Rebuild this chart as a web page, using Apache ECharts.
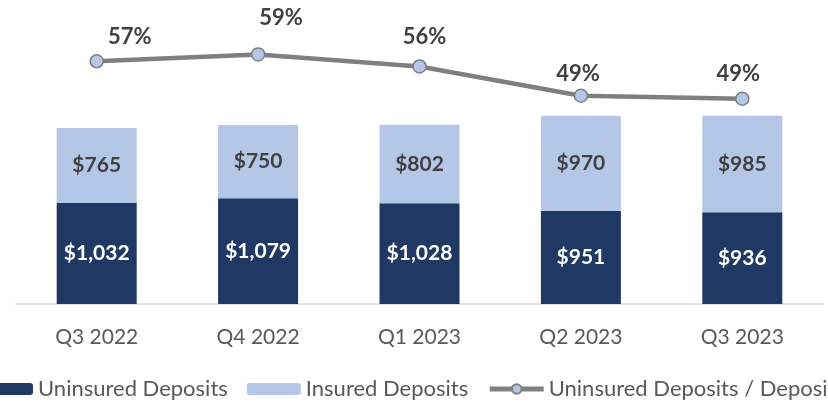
<!DOCTYPE html>
<html>
<head>
<meta charset="utf-8">
<script src="https://cdn.jsdelivr.net/npm/echarts@6/dist/echarts.min.js"></script>
<style>
  html, body { margin: 0; padding: 0; background: #fff; }
  #chart { width: 828px; height: 402px; }
</style>
</head>
<body>
<div id="chart"></div>
<script>
const quarters = ["Q3 2022", "Q4 2022", "Q1 2023", "Q2 2023", "Q3 2023"];
const uninsured = [1032, 1079, 1028, 951, 936];
const insured = [765, 750, 802, 970, 985];
const uninsuredShare = [57.4, 59.0, 56.2, 49.4, 48.7]; // percent

const FONT = "Lato";
const DARK = "#1F3864";
const LIGHT = "#B4C7E7";
const GRAY = "#7F7F7F";

// nudges for the % labels, relative to each point
const shareLabelOffsets = [[33, -24], [23, -37], [5, -30], [-3, -22], [-4, -25]];

const chart = echarts.init(document.getElementById("chart"));

const money = (v) => "$" + v.toLocaleString("en-US");

chart.setOption({
  animation: false,
  textStyle: { fontFamily: FONT },
  grid: { left: 16, right: 5, top: 20, bottom: 98 },
  legend: {
    left: -26,
    top: 373,
    width: 1300,
    itemWidth: 54,
    itemHeight: 12,
    itemGap: 19,
    textStyle: { fontFamily: FONT, fontSize: 22, color: "#595959" },
    data: [
      "Uninsured Deposits",
      "Insured Deposits",
      { name: "Uninsured Deposits / Deposits", lineStyle: { width: 5 } },
    ],
  },
  xAxis: {
    type: "category",
    data: quarters,
    axisTick: { show: false },
    axisLine: { lineStyle: { color: "#D9D9D9", width: 1.5 } },
    axisLabel: { color: "#595959", fontSize: 21, fontFamily: FONT, margin: 23 },
  },
  yAxis: [
    { type: "value", min: 0, max: 2900, show: false, splitLine: { show: false } },
    { type: "value", min: 1, max: 67, show: false, splitLine: { show: false } },
  ],
  series: [
    {
      name: "Uninsured Deposits",
      type: "bar",
      stack: "dep",
      barWidth: 80,
      data: uninsured,
      itemStyle: { color: DARK },
      label: {
        show: true,
        position: "inside",
        color: "#fff",
        fontWeight: "bold",
        fontSize: 21,
        fontFamily: FONT,
        formatter: (p) => money(p.value),
      },
    },
    {
      name: "Insured Deposits",
      type: "bar",
      stack: "dep",
      barWidth: 80,
      data: insured,
      itemStyle: { color: LIGHT },
      label: {
        show: true,
        position: "inside",
        color: "#404040",
        fontWeight: "bold",
        fontSize: 21,
        fontFamily: FONT,
        formatter: (p) => money(p.value),
      },
    },
    {
      name: "Uninsured Deposits / Deposits",
      type: "line",
      yAxisIndex: 1,
      symbol: "circle",
      symbolSize: 13,
      data: uninsuredShare.map((v, i) => ({
        value: v,
        label: { offset: shareLabelOffsets[i] },
      })),
      lineStyle: { color: GRAY, width: 4.5 },
      itemStyle: { color: LIGHT, borderColor: GRAY, borderWidth: 1.5 },
      label: {
        show: true,
        position: "inside",
        color: "#404040",
        fontWeight: "bold",
        fontSize: 22,
        fontFamily: FONT,
        formatter: (p) => Math.round(p.value) + "%",
      },
    },
  ],
});
</script>
</body>
</html>
